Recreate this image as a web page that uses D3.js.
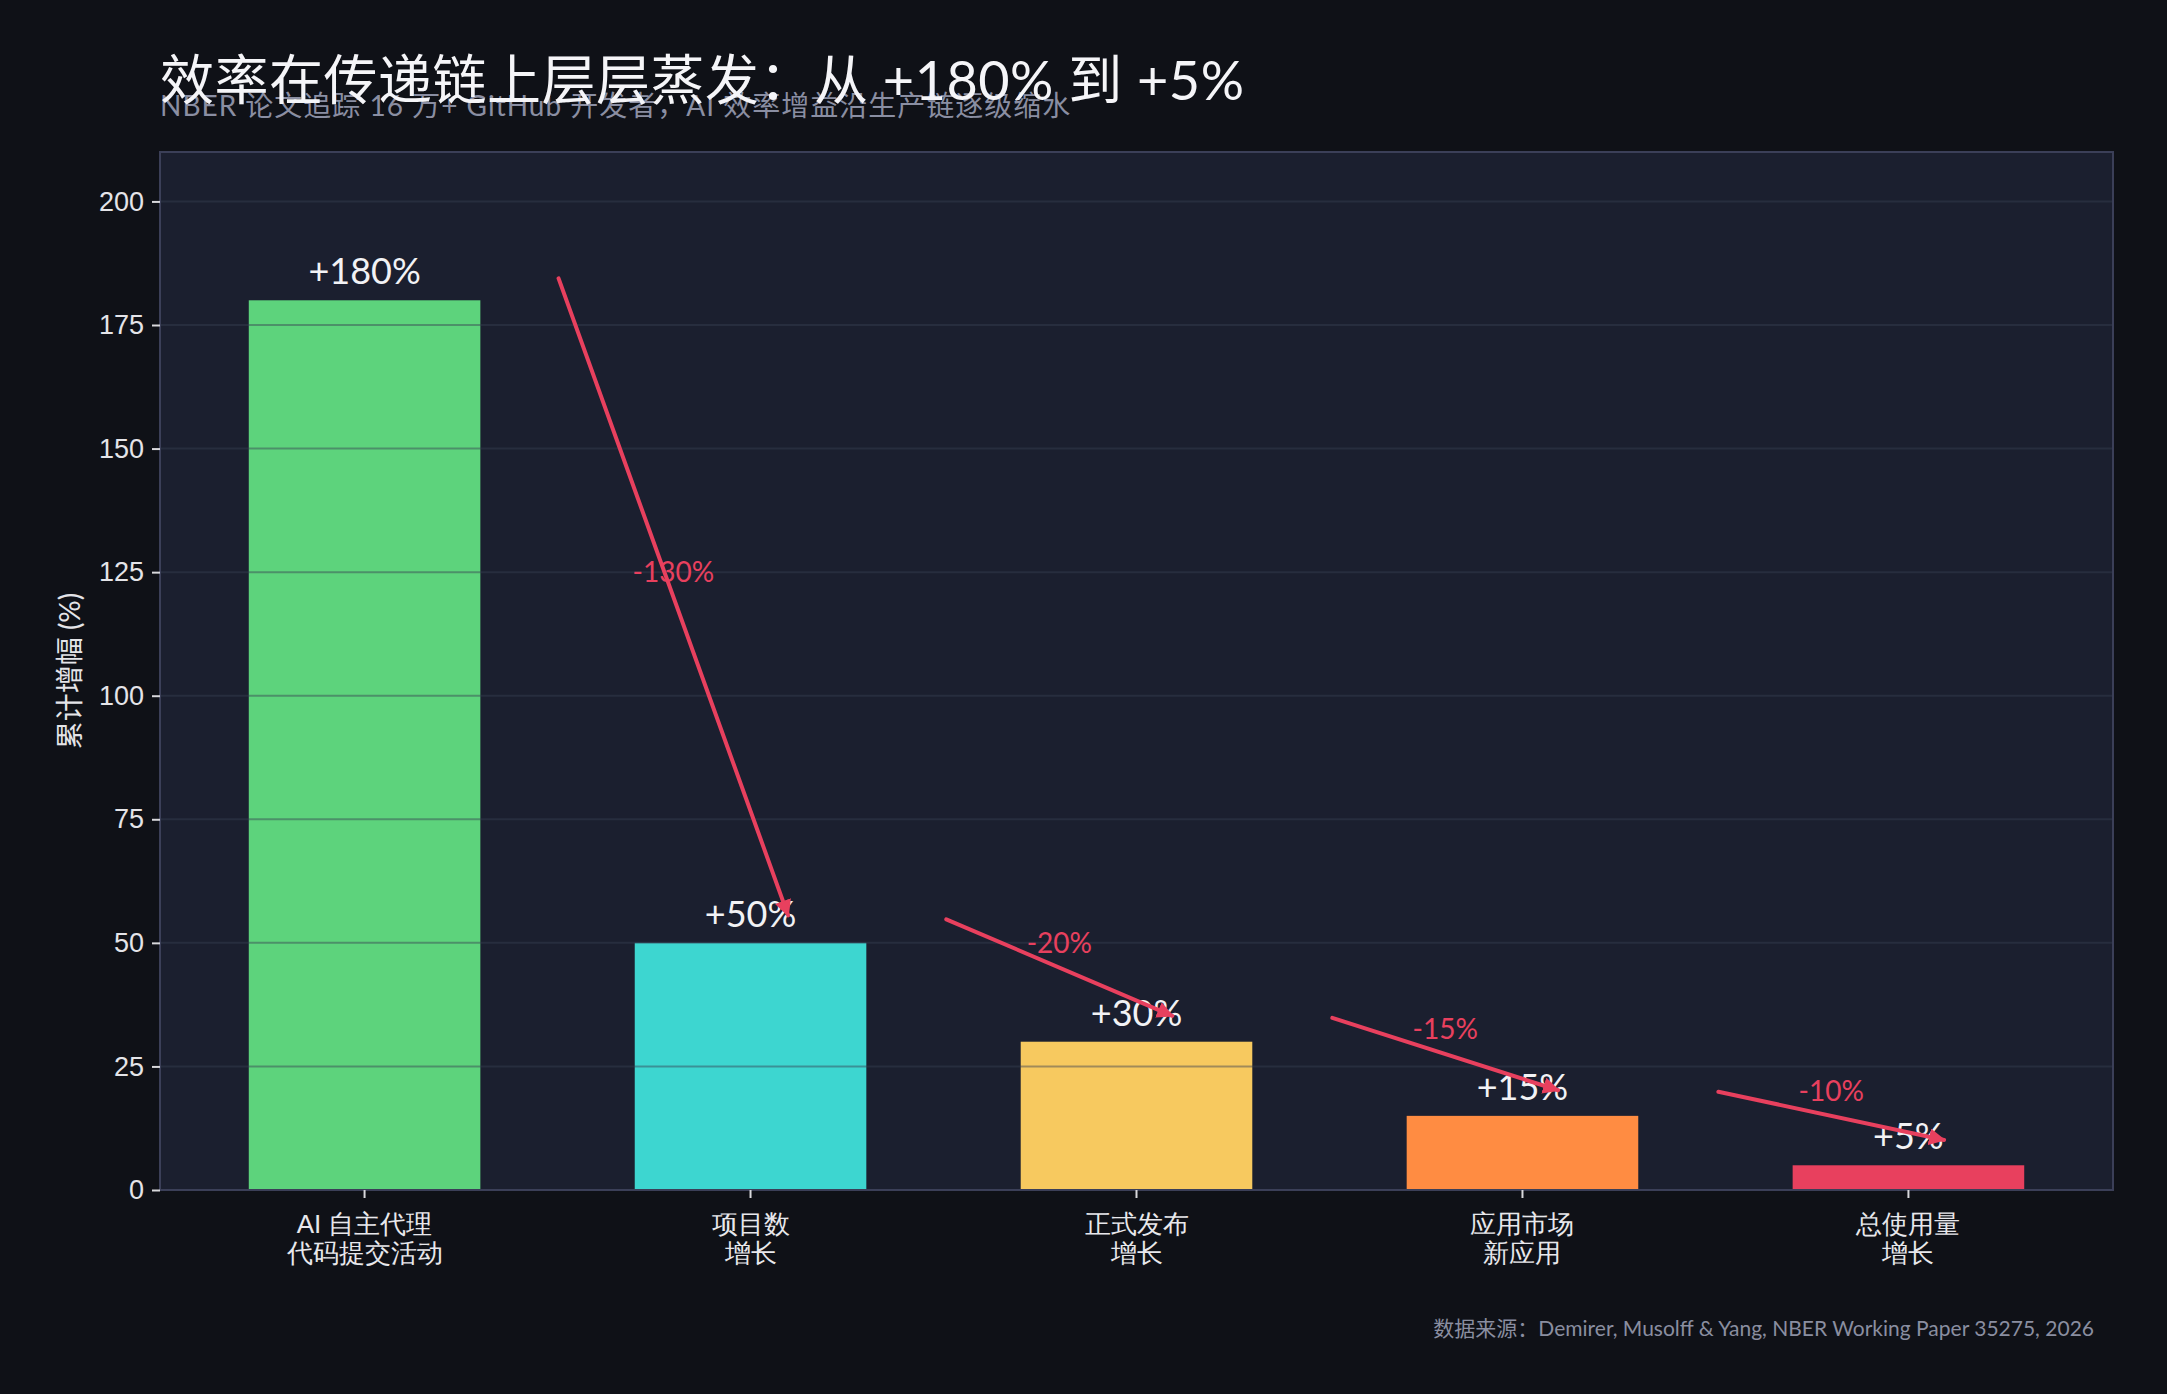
<!DOCTYPE html>
<html>
<head>
<meta charset="utf-8">
<script src="https://cdn.jsdelivr.net/npm/d3@7"></script>
<style>
  html, body { margin: 0; padding: 0; background: #0f1117; }
  svg { display: block; font-family: Lato, "Noto Sans CJK SC", sans-serif; }
</style>
</head>
<body>
<svg id="chart" width="2167" height="1394"></svg>
<script>
// data
var stages = ["AI 自主代理\n代码提交活动", "项目数\n增长", "正式发布\n增长", "应用市场\n新应用", "总使用量\n增长"];
var gains = [180, 50, 30, 15, 5];
var drops = ["-130%", "-20%", "-15%", "-10%"];
var barColours = ["#5dd37c", "#3dd6d0", "#f7c95f", "#ff8c42", "#e8405e"];
var yTicks = [0, 25, 50, 75, 100, 125, 150, 175, 200];

var W = 2167, H = 1394;
var margin = { left: 160, right: 2113, top: 152, bottom: 1190 };

var svg = d3.select("#chart");

svg.append("rect").attr("width", W).attr("height", H).attr("fill", "#0f1117");

var x = d3.scaleBand()
    .domain(stages)
    .range([margin.left, margin.right])
    .paddingInner(0.4)
    .paddingOuter(0.23);

var y = d3.scaleLinear()
    .domain([0, 210])
    .range([margin.bottom, margin.top]);

// position in "category units" (0 = centre of first bar)
function xAt(t) {
    return x(stages[0]) + x.bandwidth() / 2 + t * x.step();
}

// plot background
svg.append("rect")
    .attr("x", margin.left).attr("y", margin.top)
    .attr("width", margin.right - margin.left)
    .attr("height", margin.bottom - margin.top)
    .attr("fill", "#1b1f2f");

// bars
svg.selectAll(".bar")
    .data(gains)
    .enter().append("rect")
    .attr("class", "bar")
    .attr("x", function (d, i) { return x(stages[i]); })
    .attr("y", function (d) { return y(d); })
    .attr("width", x.bandwidth())
    .attr("height", function (d) { return y(0) - y(d); })
    .attr("fill", function (d, i) { return barColours[i]; });

// grid on top of bars
svg.selectAll(".grid")
    .data(yTicks.slice(1))
    .enter().append("line")
    .attr("x1", margin.left).attr("x2", margin.right)
    .attr("y1", function (d) { return y(d); })
    .attr("y2", function (d) { return y(d); })
    .style("stroke", "#383d52")
    .style("stroke-opacity", 0.45)
    .style("stroke-width", 2);

// frame
svg.append("rect")
    .attr("x", margin.left).attr("y", margin.top)
    .attr("width", margin.right - margin.left)
    .attr("height", margin.bottom - margin.top)
    .attr("fill", "none")
    .attr("stroke", "#3b3f58")
    .attr("stroke-width", 2);

// axes
var yAxis = svg.append("g")
    .attr("transform", "translate(" + margin.left + ",0)")
    .call(d3.axisLeft(y).tickValues(yTicks).tickSize(8).tickPadding(8));
yAxis.select(".domain").remove();
yAxis.selectAll("line").attr("stroke", "#d8d8dc").attr("stroke-width", 2);
yAxis.selectAll("text").attr("fill", "#e4e4e8").style("font-size", "27px");

var xAxis = svg.append("g")
    .attr("transform", "translate(0," + margin.bottom + ")")
    .call(d3.axisBottom(x).tickSize(8).tickFormat(""));
xAxis.select(".domain").remove();
xAxis.selectAll("line").attr("stroke", "#d8d8dc").attr("stroke-width", 2);

xAxis.selectAll(".tick").append("text")
    .attr("fill", "#e8e8ec")
    .attr("text-anchor", "middle")
    .style("font-size", "26px")
    .each(function (d) {
        var lines = d.split("\n");
        var t = d3.select(this);
        lines.forEach(function (l, k) {
            t.append("tspan").attr("x", 0).attr("y", 43 + k * 29).text(l);
        });
    });

// value labels
svg.selectAll(".val")
    .data(gains)
    .enter().append("text")
    .attr("x", function (d, i) { return x(stages[i]) + x.bandwidth() / 2; })
    .attr("y", function (d) { return y(d) - 16; })
    .attr("text-anchor", "middle")
    .attr("fill", "#f2f2f5")
    .style("font-size", "36px")
    .text(function (d) { return "+" + d + "%"; });

// arrows between stages
var red = "#e8405e";
svg.append("defs").append("marker")
    .attr("id", "head")
    .attr("viewBox", "0 0 10 10")
    .attr("refX", 9).attr("refY", 5)
    .attr("markerWidth", 4.2).attr("markerHeight", 4.2)
    .attr("markerUnits", "strokeWidth")
    .attr("orient", "auto")
    .append("path")
    .attr("d", "M0,0 L10,5 L0,10 Z")
    .attr("fill", red);

drops.forEach(function (lab, i) {
    var x1 = xAt(i + 0.5), y1 = y(gains[i] + 5);
    var x2 = xAt(i + 1.1), y2 = y(gains[i + 1] + 5);
    var len = Math.hypot(x2 - x1, y2 - y1);
    var s = 3 / len;
    svg.append("line")
        .attr("x1", x1 + (x2 - x1) * s).attr("y1", y1 + (y2 - y1) * s)
        .attr("x2", x2 - (x2 - x1) * s).attr("y2", y2 - (y2 - y1) * s)
        .attr("stroke", red)
        .attr("stroke-width", 4)
        .attr("stroke-linecap", "round")
        .attr("marker-end", "url(#head)");

    svg.append("text")
        .attr("x", xAt(i + 0.8))
        .attr("y", y((gains[i] + gains[i + 1]) / 2 + 10))
        .attr("dy", "0.35em")
        .attr("text-anchor", "middle")
        .attr("fill", red)
        .style("font-size", "28px")
        .text(lab);
});

// y label
svg.append("text")
    .attr("transform", "translate(70," + ((margin.top + margin.bottom) / 2) + ") rotate(-90)")
    .attr("text-anchor", "middle")
    .attr("dy", "0.35em")
    .attr("fill", "#e4e4e8")
    .style("font-size", "28px")
    .text("累计增幅 (%)");

// title + subtitle (they overlap in the original too)
svg.append("text")
    .attr("x", 160).attr("y", 116)
    .attr("fill", "#8a8ea2")
    .style("font-size", "28px")
    .style("letter-spacing", "1px")
    .text("NBER 论文追踪 16 万+ GitHub 开发者，AI 效率增益沿生产链逐级缩水");

svg.append("text")
    .attr("x", 160).attr("y", 100)
    .attr("fill", "#f5f5f8")
    .style("font-size", "54px")
    .style("letter-spacing", "0.5px")
    .text("效率在传递链上层层蒸发：从 +180% 到 +5%");

// source
svg.append("text")
    .attr("x", 2094).attr("y", 1336)
    .attr("text-anchor", "end")
    .attr("fill", "#8a8ea0")
    .style("font-size", "21px")
    .text("数据来源：Demirer, Musolff & Yang, NBER Working Paper 35275, 2026");
</script>
</body>
</html>
